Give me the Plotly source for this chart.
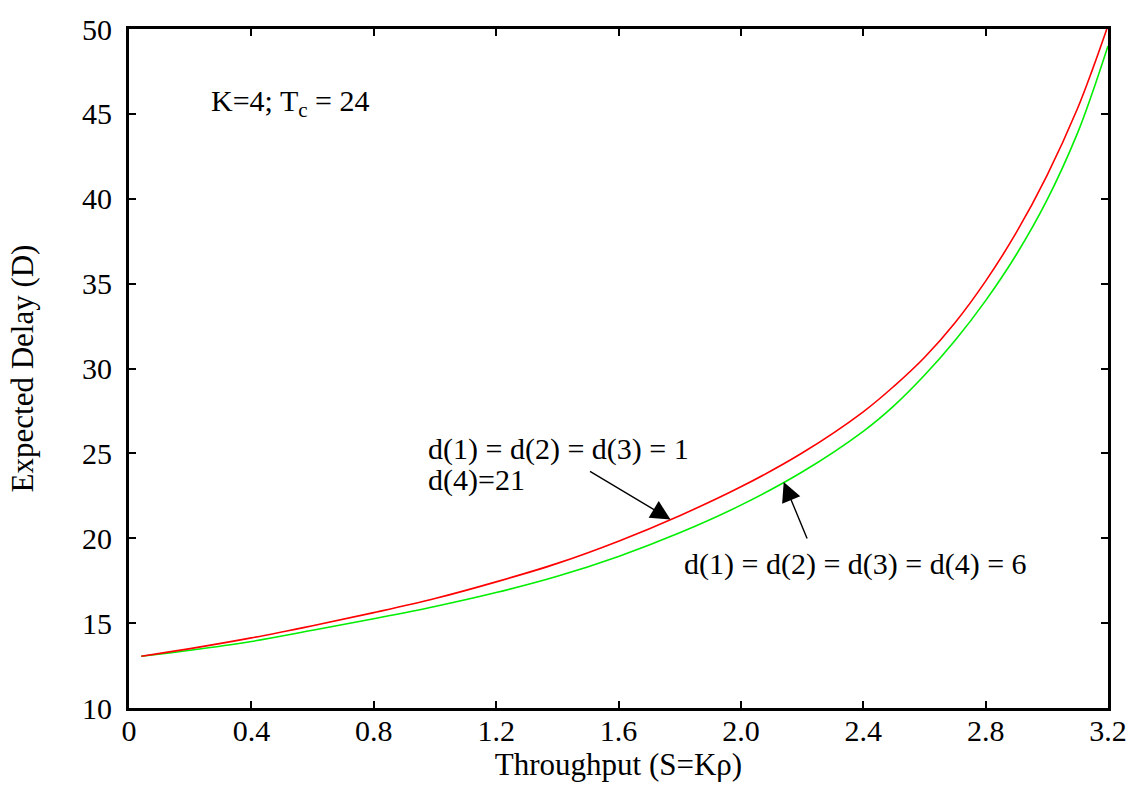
import numpy as np
import plotly.graph_objects as go

# Throughput S = K*rho and expected delay D for the two d(i) assignments
throughput = [0.04, 0.2, 0.4, 0.6, 0.8, 1.0, 1.2, 1.4, 1.6, 1.8, 2.0,
              2.2, 2.4, 2.5, 2.6, 2.7, 2.8, 2.9, 3.0, 3.1, 3.15, 3.2]
delay_unequal = [13.05, 13.5, 14.13, 14.85, 15.62, 16.45, 17.43, 18.52,
                 19.83, 21.33, 23.03, 25.02, 27.45, 28.95, 30.65, 32.7,
                 35.15, 38.0, 41.35, 45.3, 47.65, 50.2]
delay_equal = [13.05, 13.4, 13.92, 14.58, 15.26, 15.98, 16.8, 17.76, 18.93,
               20.32, 21.95, 23.9, 26.3, 27.8, 29.6, 31.65, 34.0, 36.7,
               39.9, 43.85, 46.3, 49.0]

x_ticks = [0, 0.4, 0.8, 1.2, 1.6, 2.0, 2.4, 2.8, 3.2]
x_tick_text = ["0", "0.4", "0.8", "1.2", "1.6", "2.0", "2.4", "2.8", "3.2"]
y_ticks = [10, 15, 20, 25, 30, 35, 40, 45, 50]
y_tick_text = [str(v) for v in y_ticks]

label_unequal = ["d(1) = d(2) = d(3) = 1", "d(4)=21"]
label_equal = "d(1) = d(2) = d(3) = d(4) = 6"
label_params = "K=4; T<sub>c</sub> = 24"

FONT = "Liberation Serif"

fig = go.Figure()
fig.add_trace(go.Scatter(x=throughput, y=delay_equal, mode="lines",
                         line=dict(color="#00ee00", width=1.6, shape="spline"),
                         showlegend=False))
fig.add_trace(go.Scatter(x=throughput, y=delay_unequal, mode="lines",
                         line=dict(color="#ff0000", width=1.6, shape="spline"),
                         showlegend=False))

axis_common = dict(
    showline=True, linecolor="black", linewidth=3, mirror="allticks",
    ticks="inside", ticklen=7, tickwidth=2, tickcolor="black",
    showgrid=False, zeroline=False,
    tickfont=dict(family=FONT, size=30, color="black"),
)

fig.update_xaxes(range=[0, 3.2], tickvals=x_ticks, ticktext=x_tick_text,
                 title=dict(text="Throughput (S=K\u03c1)",
                            font=dict(family=FONT, size=31, color="black"),
                            standoff=6),
                 ticklabelstandoff=-6,
                 **axis_common)
fig.update_yaxes(range=[10, 50], tickvals=y_ticks, ticktext=y_tick_text,
                 title=dict(text="Expected Delay (D)",
                            font=dict(family=FONT, size=31, color="black"),
                            standoff=40),
                 ticklabelstandoff=8,
                 **axis_common)

text_font = dict(family=FONT, size=30, color="black")

# Parameter label
fig.add_annotation(x=0.263, y=45.66, text=label_params, showarrow=False,
                   xanchor="left", yanchor="middle", font=text_font)

# Labels for the two curves
fig.add_annotation(x=0.97, y=25.25, text=label_unequal[0], showarrow=False,
                   xanchor="left", yanchor="middle", font=text_font)
fig.add_annotation(x=0.97, y=23.43, text=label_unequal[1], showarrow=False,
                   xanchor="left", yanchor="middle", font=text_font)
fig.add_annotation(x=1.808, y=18.5, text=label_equal, showarrow=False,
                   xanchor="left", yanchor="middle", font=text_font)

# Arrows pointing at each curve
s_red = 1.77
s_green = 2.14
fig.add_annotation(x=s_red, y=float(np.interp(s_red, throughput, delay_unequal)),
                   ax=-82, ay=-49, text="", showarrow=True,
                   arrowhead=2, arrowsize=2.8, arrowwidth=1.4,
                   arrowcolor="black", standoff=0)
fig.add_annotation(x=s_green, y=float(np.interp(s_green, throughput, delay_equal)),
                   ax=24, ay=58, text="", showarrow=True,
                   arrowhead=2, arrowsize=2.8, arrowwidth=1.4,
                   arrowcolor="black", standoff=0)

fig.update_layout(
    width=1139, height=805,
    margin=dict(l=129, r=24, t=26, b=97),
    paper_bgcolor="white", plot_bgcolor="white",
    font=dict(family=FONT, color="black"),
)

fig.write_html("out.html")
